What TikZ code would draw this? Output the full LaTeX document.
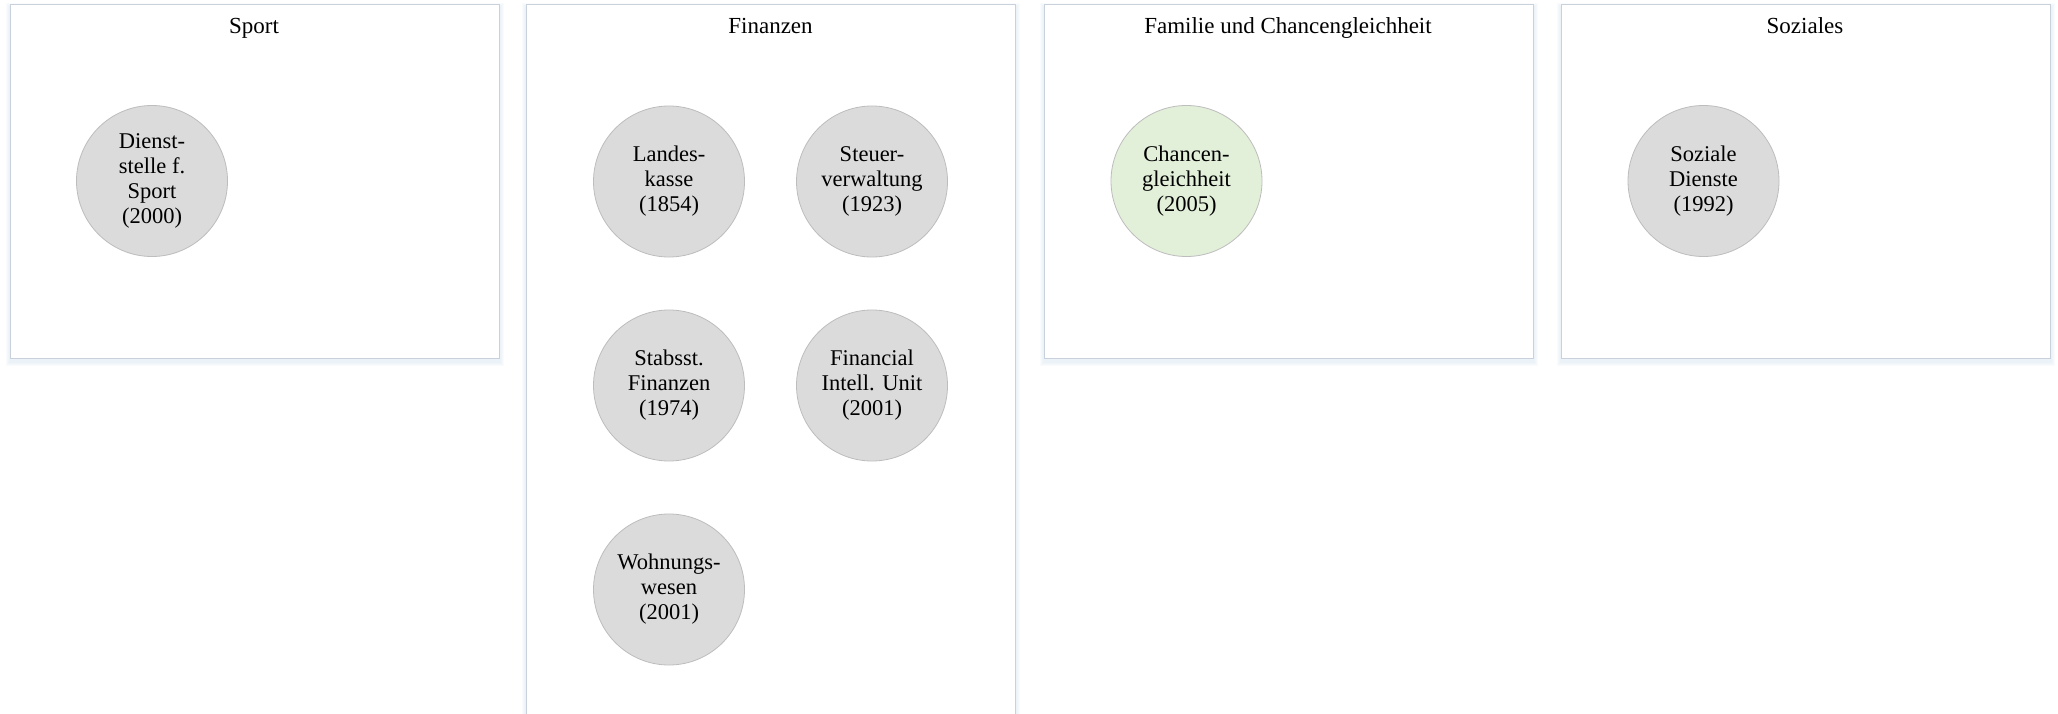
\documentclass[tikz,border=0pt]{standalone}
\usepackage{fontspec}
\setmainfont{Liberation Serif}
\usetikzlibrary{backgrounds}
\definecolor{boxline}{HTML}{C9D1DC}
\definecolor{circfill}{HTML}{DBDBDB}
\definecolor{circline}{HTML}{BDBDBD}
\definecolor{greenfill}{HTML}{E2EFD9}
\definecolor{glow}{HTML}{9DC3E6}
\tikzset{
  panel/.style={rectangle, draw=boxline, line width=1pt, fill=white, inner sep=0pt,
    minimum width=489pt, anchor=north west},
  paneltitle/.style={anchor=base, font=\fontsize{23}{25}\selectfont},
  unit/.style={circle, draw=circline, line width=0.8pt, fill=circfill, minimum size=151pt, inner sep=0pt,
    align=center, font=\fontsize{22.5}{25}\selectfont},
  greenunit/.style={unit, fill=greenfill},
  glowring/.style={fill=glow, opacity=0.12}
}
\begin{document}
\begin{tikzpicture}[x=1pt,y=-1pt]
\useasboundingbox (0,0) rectangle (2058,714);
% panels
\node[panel, minimum height=353pt] (pSport) at (9.5,4.5) {};
\node[panel, minimum height=740pt] (pFin) at (526,4.5) {};
\node[panel, minimum height=353pt] (pFam) at (1043.5,4.5) {};
\node[panel, minimum height=353pt] (pSoz) at (1560.5,4.5) {};
% titles
\node[paneltitle] (tSport) at (254,34) {Sport};
\node[paneltitle] (tFin) at (770.5,34) {Finanzen};
\node[paneltitle] (tFam) at (1288,34) {Familie und Chancengleichheit};
\node[paneltitle] (tSoz) at (1805,34) {Soziales};
% units
\node[unit] (sport) at (152,181) {Dienst-\\stelle f.\\Sport\\(2000)};
\node[unit] (lk) at (669,181.5) {Landes-\\kasse\\(1854)};
\node[unit] (sv) at (872,181.5) {Steuer-\\verwaltung\\(1923)};
\node[unit] (sf) at (669,385.5) {Stabsst.\\Finanzen\\(1974)};
\node[unit] (fiu) at (872,385.5) {Financial\\Intell. Unit\\(2001)};
\node[unit] (ww) at (669,589.5) {Wohnungs-\\wesen\\(2001)};
\node[greenunit] (cg) at (1186.5,181) {Chancen-\\gleichheit\\(2005)};
\node[unit] (sd) at (1703.5,181) {Soziale\\Dienste\\(1992)};
% soft glows behind
\begin{scope}[on background layer]
  \fill[white] (0,0) rectangle (2058,714);
  \foreach \p in {pSport,pFin,pFam,pSoz}{
    \foreach \e in {1,2,3,4}{
      \fill[fill=glow, opacity=0.05] ([xshift=-\e pt, yshift=-3pt+\e pt]\p.north west) rectangle ([xshift=\e pt, yshift=-3pt-\e pt]\p.south east);
    }
  }
  \foreach \n in {sport,lk,sv,sf,fiu,ww,cg,sd}{
    \foreach \r in {76,77,78,79,80,81}{
      \fill[glowring] ([yshift=-4pt]\n.center) circle (\r pt);
    }
  }
\end{scope}
\end{tikzpicture}
\end{document}
